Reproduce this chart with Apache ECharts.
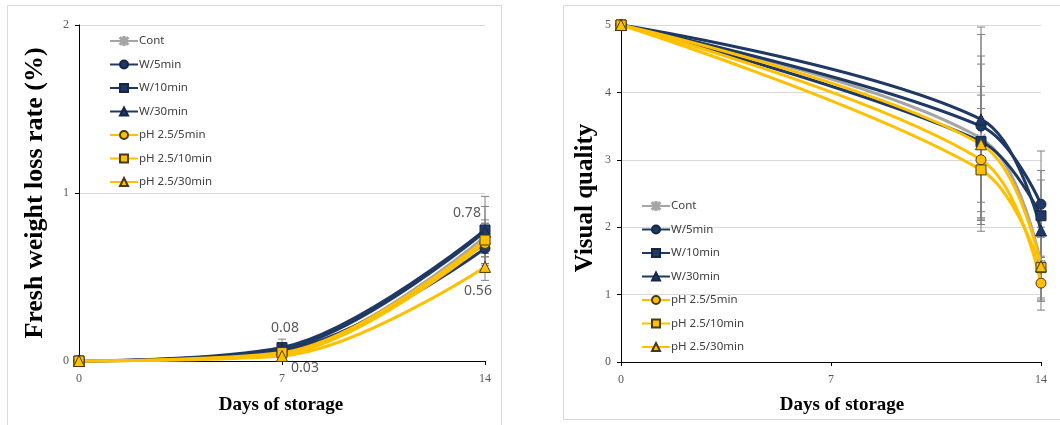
<!DOCTYPE html>
<html>
<head>
<meta charset="utf-8">
<script src="https://cdn.jsdelivr.net/npm/echarts@6/dist/echarts.min.js"></script>
<style>
html,body{margin:0;padding:0;background:#fff;}
#chart{width:1060px;height:425px;}
</style>
</head>
<body>
<div id="chart"></div>
<script>
// ---------- DATA ----------
const seriesNames = ['Cont', 'W/5min', 'W/10min', 'W/30min', 'pH 2.5/5min', 'pH 2.5/10min', 'pH 2.5/30min'];
const xTicks = [0, 7, 14];

// Left chart: Fresh weight loss rate (%)
const daysLoss = [0, 7, 14];
const lossCont = [0, 0.05, 0.74];
const lossW5   = [0, 0.06, 0.67];
const lossW10  = [0, 0.08, 0.78];
const lossW30  = [0, 0.07, 0.77];
const lossPH5  = [0, 0.04, 0.70];
const lossPH10 = [0, 0.05, 0.72];
const lossPH30 = [0, 0.03, 0.56];
const lossErrCont = [0, 0.02, 0.10];
const lossErrW5   = [0, 0.02, 0.10];
const lossErrW10  = [0, 0.05, 0.20];
const lossErrW30  = [0, 0.03, 0.15];
const lossErrPH5  = [0, 0.02, 0.12];
const lossErrPH10 = [0, 0.02, 0.10];
const lossErrPH30 = [0, 0.02, 0.08];

// Right chart: Visual quality
const daysVQ = [0, 12, 14];
const vqCont = [5, 3.32, 1.45];
const vqW5   = [5, 3.50, 2.34];
const vqW10  = [5, 3.27, 2.17];
const vqW30  = [5, 3.60, 1.95];
const vqPH5  = [5, 3.00, 1.17];
const vqPH10 = [5, 2.85, 1.40];
const vqPH30 = [5, 3.23, 1.42];
const vqErrCont = [0, 1.22, 0.55];
const vqErrW5   = [0, 1.36, 0.79];
const vqErrW10  = [0, 1.15, 0.67];
const vqErrW30  = [0, 1.37, 0.75];
const vqErrPH5  = [0, 0.96, 0.40];
const vqErrPH10 = [0, 0.91, 0.45];
const vqErrPH30 = [0, 0.86, 0.50];

// ---------- STYLE ----------
const NAVY = '#1F3864';
const GOLD = '#FFC000';
const GREY = '#A5A5A5';
const starPath = 'path://M4.4,0L5.6,0L5.6,10L4.4,10Z M0.6,1.5L1.5,0.6L9.4,8.5L8.5,9.4Z M9.4,1.5L8.5,0.6L0.6,8.5L1.5,9.4Z';
const styles = [
  {color: GREY, symbol: starPath, size: 9, border: GREY},
  {color: NAVY, symbol: 'circle', size: 10, border: '#15264a'},
  {color: NAVY, symbol: 'rect', size: 10, border: '#15264a'},
  {color: NAVY, symbol: 'triangle', size: 11, border: '#15264a'},
  {color: GOLD, symbol: 'circle', size: 10, border: '#4a3a10'},
  {color: GOLD, symbol: 'rect', size: 10, border: '#4a3a10'},
  {color: GOLD, symbol: 'triangle', size: 11, border: '#4a3a10'}
];
const lossVals = [lossCont, lossW5, lossW10, lossW30, lossPH5, lossPH10, lossPH30];
const lossErrs = [lossErrCont, lossErrW5, lossErrW10, lossErrW30, lossErrPH5, lossErrPH10, lossErrPH30];
const vqVals = [vqCont, vqW5, vqW10, vqW30, vqPH5, vqPH10, vqPH30];
const vqErrs = [vqErrCont, vqErrW5, vqErrW10, vqErrW30, vqErrPH5, vqErrPH10, vqErrPH30];

// labels shown on left chart: [seriesIndex, pointIndex, offset]
const lossLabels = [
  [2, 1, [3, -20]],
  [6, 1, [23, 12]],
  [2, 2, [-18, -17]],
  [6, 2, [-7, 24]]
];

const labelFont = {fontFamily: 'Liberation Serif', fontSize: 12, color: '#595959'};

function errData(xs, vals, errs) {
  const out = [];
  for (let s = 0; s < vals.length; s++) {
    for (let i = 0; i < xs.length; i++) {
      if (errs[s][i] > 0) out.push([xs[i], vals[s][i] - errs[s][i], vals[s][i] + errs[s][i]]);
    }
  }
  return out;
}
function errRender(params, api) {
  const x = api.value(0);
  const lo = api.coord([x, api.value(1)]);
  const hi = api.coord([x, api.value(2)]);
  const w = 4;
  const st = {stroke: '#808080', lineWidth: 1};
  return {type: 'group', children: [
    {type: 'line', shape: {x1: lo[0], y1: lo[1], x2: hi[0], y2: hi[1]}, style: st},
    {type: 'line', shape: {x1: hi[0] - w, y1: hi[1], x2: hi[0] + w, y2: hi[1]}, style: st},
    {type: 'line', shape: {x1: lo[0] - w, y1: lo[1], x2: lo[0] + w, y2: lo[1]}, style: st}
  ]};
}

const series = [];
series.push({type: 'custom', xAxisIndex: 0, yAxisIndex: 0, renderItem: errRender, data: errData(daysLoss, lossVals, lossErrs), z: 1, silent: true});
series.push({type: 'custom', xAxisIndex: 1, yAxisIndex: 1, renderItem: errRender, data: errData(daysVQ, vqVals, vqErrs), z: 1, silent: true});

function makeLine(name, st, xs, ys, axis) {
  const data = xs.map((x, i) => ({value: [x, ys[i]]}));
  return {
    name: name, type: 'line', smooth: 0.35, xAxisIndex: axis, yAxisIndex: axis,
    data: data, symbol: st.symbol, symbolSize: st.size, showAllSymbol: true,
    lineStyle: {color: st.color, width: 3},
    itemStyle: {color: st.color, borderColor: st.border, borderWidth: 1},
    emphasis: {disabled: true}, z: 3
  };
}
seriesNames.forEach((n, s) => {
  const ser = makeLine(n, styles[s], daysLoss, lossVals[s], 0);
  lossLabels.forEach(l => {
    if (l[0] === s) {
      ser.data[l[1]].label = {
        show: true, position: 'inside', offset: l[2],
        formatter: ser.data[l[1]].value[1].toFixed(2),
        fontFamily: 'Noto Sans', fontSize: 14, color: '#595959'
      };
    }
  });
  series.push(ser);
});
seriesNames.forEach((n, s) => {
  series.push(makeLine(n, styles[s], daysVQ, vqVals[s], 1));
});

function xAx(gi) {
  return {
    type: 'value', gridIndex: gi, min: 0, max: 14, interval: 7,
    axisLine: {show: true, onZero: false, lineStyle: {color: '#000', width: 1}},
    axisTick: {show: true, length: 4, lineStyle: {color: '#000'}},
    axisLabel: Object.assign({margin: 12}, labelFont),
    splitLine: {show: false}
  };
}
function yAx(gi, max) {
  return {
    type: 'value', gridIndex: gi, min: 0, max: max, interval: 1,
    axisLine: {show: true, lineStyle: {color: '#000', width: 1}},
    axisTick: {show: true, length: 4, lineStyle: {color: '#000'}},
    axisLabel: Object.assign({margin: 10}, labelFont),
    splitLine: {show: true, lineStyle: {color: '#D9D9D9', width: 1}}
  };
}
function legend(left, top) {
  return {
    data: seriesNames, left: left, top: top, orient: 'vertical',
    itemWidth: 28, itemHeight: 10, itemGap: 11.5,
    textStyle: {fontFamily: 'Noto Sans', fontSize: 11.5, color: '#404040', padding: [0, 0, 0, -4]},
    selectedMode: false
  };
}

const titleStyle = {fontFamily: 'Liberation Serif', fontWeight: 'bold', fill: '#000', textAlign: 'center', textVerticalAlign: 'middle'};

const option = {
  animation: false,
  backgroundColor: '#fff',
  grid: [
    {left: 79, top: 25, width: 406, height: 336},
    {left: 621, top: 25, width: 420, height: 337}
  ],
  xAxis: [xAx(0), xAx(1)],
  yAxis: [yAx(0, 2), yAx(1, 5)],
  legend: [legend(104, 30), legend(636, 195)],
  graphic: [
    {type: 'rect', shape: {x: 7.5, y: 5.5, width: 494, height: 425}, style: {fill: 'none', stroke: '#D9D9D9', lineWidth: 1}, z: -1},
    {type: 'rect', shape: {x: 563.5, y: 5.5, width: 500, height: 414}, style: {fill: 'none', stroke: '#D9D9D9', lineWidth: 1}, z: -1},
    {type: 'text', x: 35, y: 193, rotation: Math.PI / 2, style: Object.assign({text: 'Fresh weight loss rate (%)', fontSize: 26}, titleStyle)},
    {type: 'text', x: 281, y: 405, style: Object.assign({text: 'Days of storage', fontSize: 19}, titleStyle)},
    {type: 'text', x: 586, y: 198, rotation: Math.PI / 2, style: Object.assign({text: 'Visual quality', fontSize: 25}, titleStyle)},
    {type: 'text', x: 842, y: 405, style: Object.assign({text: 'Days of storage', fontSize: 19}, titleStyle)}
  ],
  series: series
};

const chart = echarts.init(document.getElementById('chart'), null, {renderer: 'canvas'});
chart.setOption(option);
</script>
</body>
</html>
